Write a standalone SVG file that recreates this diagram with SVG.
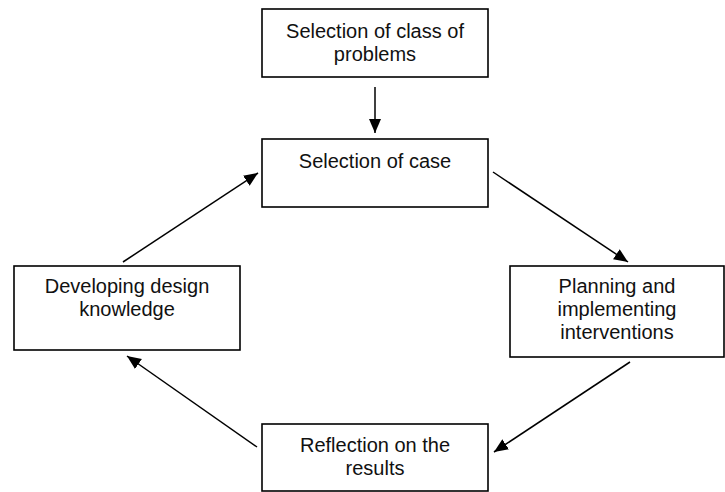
<svg xmlns="http://www.w3.org/2000/svg" width="725" height="492" viewBox="0 0 725 492">
<style>
.box{fill:#fff;stroke:#000;stroke-width:1.6}
.lbl{font-family:"Liberation Sans",Arial,sans-serif;font-size:20px;fill:#111;text-anchor:middle}
.con{stroke:#000;stroke-width:1.5;fill:none;marker-end:url(#ah)}
</style>
<defs>
<marker id="ah" markerUnits="userSpaceOnUse" markerWidth="16" markerHeight="14" refX="14" refY="6" orient="auto">
<path d="M0,0 L14,6 L0,12 z" fill="#000"/>
</marker>
</defs>
<rect width="725" height="492" fill="#fff"/>
<g id="connectors">
<line class="con" x1="375" y1="87" x2="375" y2="133"/>
<line class="con" x1="493" y1="172" x2="628" y2="262"/>
<line class="con" x1="630" y1="362" x2="494" y2="452"/>
<line class="con" x1="257" y1="447" x2="127" y2="356"/>
<line class="con" x1="123" y1="262" x2="258" y2="173"/>
</g>
<g id="node-class">
<rect class="box" x="262" y="9" width="226" height="68"/>
<text class="lbl" x="375" y="38">Selection of class of</text>
<text class="lbl" x="375" y="61">problems</text>
</g>
<g id="node-case">
<rect class="box" x="262" y="139" width="226" height="68"/>
<text class="lbl" x="375" y="168">Selection of case</text>
</g>
<g id="node-planning">
<rect class="box" x="510" y="266" width="214" height="91"/>
<text class="lbl" x="617" y="293">Planning and</text>
<text class="lbl" x="617" y="316">implementing</text>
<text class="lbl" x="617" y="339">interventions</text>
</g>
<g id="node-reflection">
<rect class="box" x="262" y="424" width="226" height="67"/>
<text class="lbl" x="375" y="452">Reflection on the</text>
<text class="lbl" x="375" y="475">results</text>
</g>
<g id="node-developing">
<rect class="box" x="14" y="266" width="226" height="84"/>
<text class="lbl" x="127" y="293">Developing design</text>
<text class="lbl" x="127" y="316">knowledge</text>
</g>
</svg>
